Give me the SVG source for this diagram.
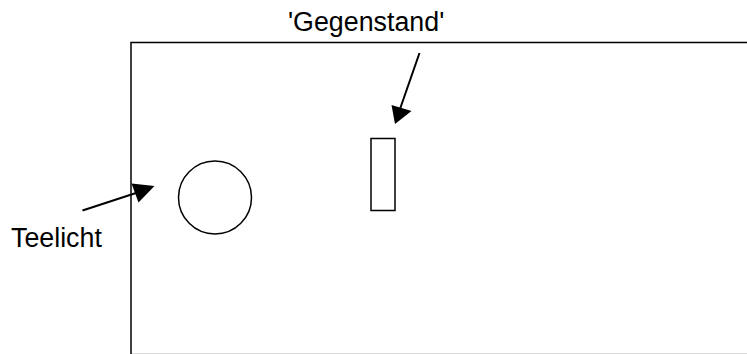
<svg xmlns="http://www.w3.org/2000/svg" width="747" height="354" viewBox="0 0 747 354">
  <style>
    .shape { fill: none; stroke: #000; stroke-width: 1.5; }
    .link { fill: none; stroke: #000; stroke-width: 2; }
    .label { font-family: "Liberation Sans", Arial, sans-serif; font-size: 26.8px; fill: #000; }
  </style>
  <rect width="747" height="354" fill="#fff"/>

  <!-- table top outline -->
  <g id="table">
    <rect class="shape" x="131" y="42.5" width="640" height="312.1" stroke-width="2"/>
  </g>

  <!-- tea light -->
  <g id="teelicht">
    <circle class="shape" cx="215" cy="197.5" r="36.5"/>
  </g>

  <!-- upright object -->
  <g id="gegenstand">
    <rect class="shape" x="371" y="138.5" width="24" height="72"/>
  </g>

  <g id="label-teelicht">
    <text class="label" x="11" y="247">Teelicht</text>
  </g>
  <g id="label-gegenstand">
    <text class="label" x="288" y="31">'Gegenstand'</text>
  </g>

  <g id="connectors">
    <line class="link" x1="82.5" y1="210.5" x2="136" y2="193"/>
    <polygon points="154.5,186 131.5,183.5 138.5,202.5" fill="#000"/>
    <line class="link" x1="419.5" y1="53" x2="400" y2="109"/>
    <polygon points="395,124 391.5,105 411.5,111" fill="#000"/>
  </g>
</svg>
